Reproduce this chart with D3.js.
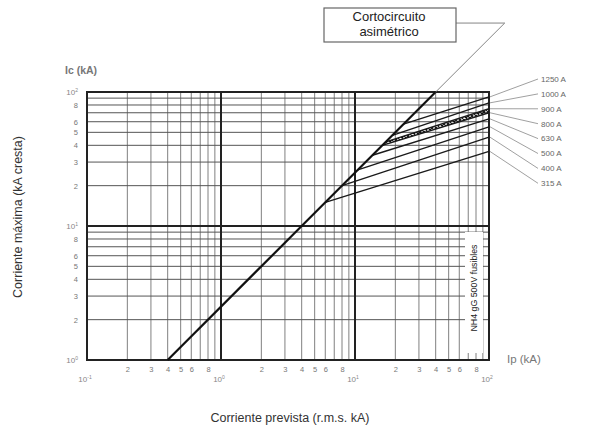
<!DOCTYPE html>
<html>
<head>
<meta charset="utf-8">
<script src="https://cdn.jsdelivr.net/npm/d3@7/dist/d3.min.js"></script>
<style>
body { margin: 0; background: #fff; }
text { font-family: "Liberation Sans", Arial, sans-serif; }
</style>
</head>
<body>
<svg width="595" height="427"></svg>
<script>
// fuse cut-off curves (Ip, Ic in kA)
var fuseRatings = ["1250 A", "1000 A", "900 A", "800 A", "630 A", "500 A", "400 A", "315 A"];
var fuseStartIp = [23, 19, 17, 16, 13.5, 10.5, 8, 6];
var fuseStartIc = [57.5, 47.5, 42.5, 40, 33.75, 26.25, 20, 15];
var fuseEndIp = [100, 100, 100, 100, 100, 100, 100, 100];
var fuseEndIc = [92, 83, 75, 70, 63, 55, 46, 36];

// asymmetric short circuit line and its extension to the call-out box
var asymIp = [0.4, 40];
var asymIc = [1, 100];
var asymLeaderIp = [40, 131];
var asymLeaderIc = [100, 327];

var minorLabels = [2, 3, 4, 5, 6, 8];
var xDecades = [0.1, 1, 10, 100];
var xDecadeExp = ["-1", "0", "1", "2"];
var yDecades = [1, 10, 100];
var yDecadeExp = ["0", "1", "2"];

var pLeft = 87, pRight = 489, pTop = 92, pBottom = 360;

var svg = d3.select("svg");

var x = d3.scaleLog().domain([0.1, 100]).range([pLeft, pRight]);
var y = d3.scaleLog().domain([1, 100]).range([pBottom, pTop]);

var xTicks = x.ticks();
var yTicks = y.ticks();
function isDecade(v) { return Math.abs(Math.log10(v) - Math.round(Math.log10(v))) < 1e-9; }
function mantissa(v) { return Math.round(v / Math.pow(10, Math.floor(Math.log10(v) + 1e-9))); }

// minor grid
var grid = svg.append("g");
grid.selectAll(".vx")
  .data(xTicks.filter(function(d) { return !isDecade(d); }))
  .enter().append("line")
  .attr("x1", function(d) { return x(d); })
  .attr("x2", function(d) { return x(d); })
  .attr("y1", pTop).attr("y2", pBottom)
  .attr("stroke", "#808080").attr("stroke-width", 1);
grid.selectAll(".hy")
  .data(yTicks.filter(function(d) { return !isDecade(d); }))
  .enter().append("line")
  .attr("y1", function(d) { return y(d); })
  .attr("y2", function(d) { return y(d); })
  .attr("x1", pLeft).attr("x2", pRight)
  .attr("stroke", "#555").attr("stroke-width", 1);

// major grid
grid.selectAll(".mx")
  .data(xDecades)
  .enter().append("line")
  .attr("x1", function(d) { return x(d); })
  .attr("x2", function(d) { return x(d); })
  .attr("y1", pTop).attr("y2", pBottom)
  .attr("stroke", "#222").attr("stroke-width", 2);
grid.selectAll(".my")
  .data(yDecades)
  .enter().append("line")
  .attr("y1", function(d) { return y(d); })
  .attr("y2", function(d) { return y(d); })
  .attr("x1", pLeft).attr("x2", pRight)
  .attr("stroke", "#222").attr("stroke-width", 2);

// white label box for fuse family
svg.append("rect")
  .attr("x", 465).attr("y", 232).attr("width", 18).attr("height", 121)
  .attr("fill", "#fff");
svg.append("text")
  .attr("transform", "translate(477,288) rotate(-90)")
  .attr("text-anchor", "middle")
  .attr("font-size", 8.8)
  .attr("fill", "#222")
  .text("NH4 gG 500V fusibles");

// minor tick labels via axes
var xAxis = d3.axisBottom(x)
  .tickValues(xTicks.filter(function(d) { return !isDecade(d) && minorLabels.indexOf(mantissa(d)) >= 0; }))
  .tickSize(0).tickPadding(7)
  .tickFormat(mantissa);
var gx = svg.append("g").attr("transform", "translate(0," + pBottom + ")").call(xAxis);
gx.select(".domain").remove();
gx.selectAll("text").attr("font-size", 7.5).attr("fill", "#777").attr("font-family", "Liberation Sans, Arial, sans-serif");

var yAxis = d3.axisLeft(y)
  .tickValues(yTicks.filter(function(d) { return !isDecade(d) && minorLabels.indexOf(mantissa(d)) >= 0; }))
  .tickSize(0).tickPadding(9)
  .tickFormat(mantissa);
var gy = svg.append("g").attr("transform", "translate(" + pLeft + ",0)").call(yAxis);
gy.select(".domain").remove();
gy.selectAll("text").attr("font-size", 7.5).attr("fill", "#777").attr("font-family", "Liberation Sans, Arial, sans-serif");

// decade labels
var xd = svg.selectAll(".xd").data(xDecades).enter().append("text")
  .attr("x", function(d) { return x(d) - 2; })
  .attr("y", 382)
  .attr("text-anchor", "middle")
  .attr("font-size", 8).attr("fill", "#888");
xd.append("tspan").text("10");
xd.append("tspan").attr("dy", -3.5).attr("font-size", 5).text(function(d, i) { return xDecadeExp[i]; });

var yd = svg.selectAll(".yd").data(yDecades).enter().append("text")
  .attr("x", 78)
  .attr("y", function(d) { return y(d) + 3; })
  .attr("text-anchor", "end")
  .attr("font-size", 8).attr("fill", "#888");
yd.append("tspan").text("10");
yd.append("tspan").attr("dy", -3.5).attr("font-size", 5).text(function(d, i) { return yDecadeExp[i]; });

// plot frame
svg.append("rect")
  .attr("x", pLeft).attr("y", pTop)
  .attr("width", pRight - pLeft).attr("height", pBottom - pTop)
  .attr("fill", "none").attr("stroke", "#222").attr("stroke-width", 2);

// hatched band between 900 A and 800 A curves
var defs = svg.append("defs");
var pat = defs.append("pattern").attr("id", "hatch")
  .attr("width", 4).attr("height", 4)
  .attr("patternUnits", "userSpaceOnUse");
pat.append("path").attr("d", "M0,4 L4,0 M0,0 L4,4").attr("stroke", "#111").attr("stroke-width", 1.1);
var i9 = fuseRatings.indexOf("900 A"), i8 = fuseRatings.indexOf("800 A");
var bandPts = [
  [x(fuseStartIp[i9]), y(fuseStartIc[i9])],
  [x(fuseEndIp[i9]), y(fuseEndIc[i9])],
  [x(fuseEndIp[i8]), y(fuseEndIc[i8])],
  [x(fuseStartIp[i8]), y(fuseStartIc[i8])]
];
svg.append("path")
  .attr("d", d3.line()(bandPts) + "Z")
  .attr("fill", "url(#hatch)").attr("stroke", "none");

// fuse curves
svg.selectAll(".fuse").data(fuseRatings).enter().append("line")
  .attr("x1", function(d, i) { return x(fuseStartIp[i]); })
  .attr("y1", function(d, i) { return y(fuseStartIc[i]); })
  .attr("x2", function(d, i) { return x(fuseEndIp[i]); })
  .attr("y2", function(d, i) { return y(fuseEndIc[i]); })
  .attr("stroke", "#1a1a1a").attr("stroke-width", 1.4);

// fuse labels and leaders
svg.selectAll(".lead").data(fuseRatings).enter().append("line")
  .attr("x1", function(d, i) { return x(fuseEndIp[i]) + 1; })
  .attr("y1", function(d, i) { return y(fuseEndIc[i]); })
  .attr("x2", 538)
  .attr("y2", function(d, i) { return 79 + i * 14.9; })
  .attr("stroke", "#888").attr("stroke-width", 0.8);
svg.selectAll(".flab").data(fuseRatings).enter().append("text")
  .attr("x", 541)
  .attr("y", function(d, i) { return 79 + i * 14.9 + 2.8; })
  .attr("font-size", 8).attr("fill", "#666")
  .text(function(d) { return d; });

// asymmetric line
svg.append("line")
  .attr("x1", x(asymIp[0])).attr("y1", y(asymIc[0]))
  .attr("x2", x(asymIp[1])).attr("y2", y(asymIc[1]))
  .attr("stroke", "#111").attr("stroke-width", 2.2);
svg.append("polyline")
  .attr("points", [
    [x(asymLeaderIp[0]), y(asymLeaderIc[0])],
    [x(asymLeaderIp[1]), y(asymLeaderIc[1])],
    [456, y(asymLeaderIc[1])]
  ].join(" "))
  .attr("fill", "none").attr("stroke", "#777").attr("stroke-width", 0.9);

// call-out box
svg.append("rect")
  .attr("x", 324).attr("y", 8).attr("width", 132).attr("height", 34)
  .attr("fill", "#fff").attr("stroke", "#666").attr("stroke-width", 1.2);
svg.append("text").attr("x", 389).attr("y", 21).attr("text-anchor", "middle")
  .attr("font-size", 13).attr("fill", "#222").text("Cortocircuito");
svg.append("text").attr("x", 389).attr("y", 36).attr("text-anchor", "middle")
  .attr("font-size", 13).attr("fill", "#222").text("asimétrico");

// axis names
svg.append("text").attr("x", 65).attr("y", 74)
  .attr("font-size", 10.5).attr("font-weight", "bold").attr("fill", "#777").text("Ic (kA)");
svg.append("text").attr("x", 507).attr("y", 363)
  .attr("font-size", 11.5).attr("fill", "#777").text("Ip (kA)");

svg.append("text")
  .attr("transform", "translate(22,217) rotate(-90)")
  .attr("text-anchor", "middle")
  .attr("font-size", 12.5).attr("fill", "#333")
  .text("Corriente máxima (kA cresta)");
svg.append("text")
  .attr("x", 290).attr("y", 422)
  .attr("text-anchor", "middle")
  .attr("font-size", 12.5).attr("fill", "#333")
  .text("Corriente prevista (r.m.s. kA)");
</script>
</body>
</html>
